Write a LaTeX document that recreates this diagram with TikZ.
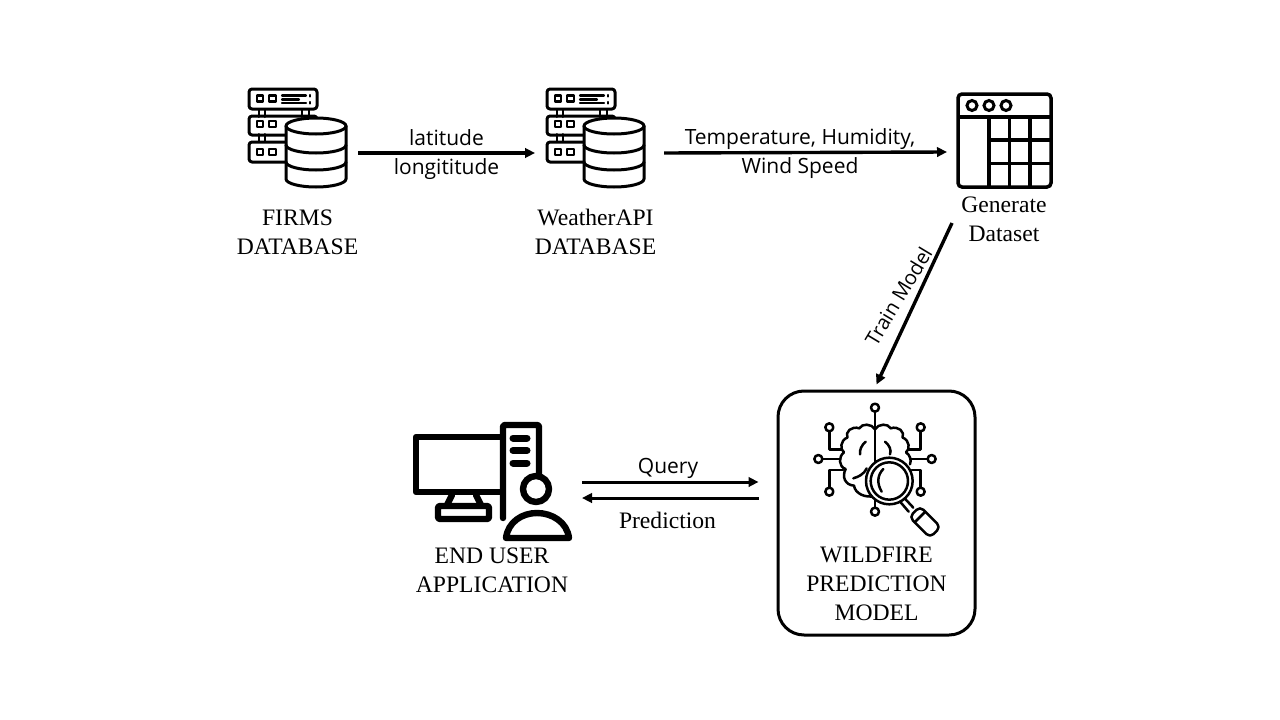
\documentclass[tikz,border=0pt]{standalone}
\usepackage{fontspec}
\setmainfont{Liberation Serif}
\newfontfamily\labfont{Open Sans}
\usetikzlibrary{arrows.meta,calc}
\tikzset{
  x=1pt,y=-1pt,
  flow/.style={line width=3.4pt,-{Triangle[length=10pt,width=9.5pt]}},
  serif/.style={align=center,inner sep=0pt,font=\fontsize{23.6}{29}\selectfont},
  sans/.style={align=center,inner sep=0pt,font=\labfont\fontsize{21}{29}\selectfont},
  anchorbox/.style={inner sep=0pt,minimum width=#1,outer sep=0pt},
  ink/.style={line width=3pt,line join=round,line cap=round},
  dbicon/.pic={
    \begin{scope}[ink,fill=white]
      \foreach \yy in {20,45}{
        \draw[line width=2pt] (10,\yy)--(10,\yy+8) (16,\yy)--(16,\yy+8) (53,\yy)--(53,\yy+8) (60,\yy)--(60,\yy+8);}
      \draw[rounded corners=3pt] (0,0) rectangle (68,20);
      \draw[rounded corners=3pt] (0,27) rectangle (68,46);
      \draw[rounded corners=3pt] (0,53) rectangle (68,73);
      \foreach \yy in {6.5,32,60}{
        \draw[line width=2.6pt] (8,\yy) rectangle (14,\yy+6);
        \draw[line width=2.6pt] (20,\yy) rectangle (27,\yy+6);}
      \draw[line width=2.2pt] (33,6.5)--(57,6.5) (33,10.5)--(50,10.5) (33,14)--(57,14);
      \draw[line width=2.2pt] (61,6)--(61,7.5) (61,13)--(61,14.5);
      \fill[white] (37,37) -- (37,90) arc[start angle=180,end angle=0,x radius=30,y radius=8] -- (97,37) arc[start angle=0,end angle=-180,x radius=30,y radius=8] -- cycle;
      \draw (37,37) -- (37,90) arc[start angle=180,end angle=0,x radius=30,y radius=8] -- (97,37);
      \draw (67,37) ellipse[x radius=30,y radius=8];
      \draw (37,56) arc[start angle=180,end angle=0,x radius=30,y radius=8];
      \draw (37,73) arc[start angle=180,end angle=0,x radius=30,y radius=8];
      \fill (67,55) circle[radius=1.4pt] (67,73) circle[radius=1.4pt] (67,88) circle[radius=1.4pt];
    \end{scope}
  }
}
\begin{document}
\begin{tikzpicture}
\useasboundingbox (0,0) rectangle (1280,720);
\fill[white] (0,0) rectangle (1280,720);

% anchors for the icons
\node[anchorbox=110pt,minimum height=98pt] (firms) at (303,153) {};
\node[anchorbox=129pt,minimum height=98pt] (weather) at (599.5,153) {};
\node[anchorbox=105pt,minimum height=95pt] (table) at (999.5,152) {};
\node[anchorbox=169pt,minimum height=120pt] (user) at (497.5,490) {};

% database icons
\pic at (249,89) {dbicon};
\pic at (547,89) {dbicon};

% table icon
\begin{scope}[line width=3.5pt]
  \draw[rounded corners=4pt] (958,94) rectangle (1051,187);
  \draw (958,117)--(1051,117);
  \draw (989,117)--(989,187) (1009.5,117)--(1009.5,187) (1030,117)--(1030,187);
  \draw (989,140)--(1051,140) (989,163.5)--(1051,163.5);
  \draw[line width=3pt] (972,105.5) circle[radius=5pt] (989,105.5) circle[radius=5pt] (1006,105.5) circle[radius=5pt];
\end{scope}

% model box
\node[draw,line width=3pt,rounded corners=26pt,minimum width=197pt,minimum height=244pt,inner sep=0pt] (model) at (876.5,513) {};

% brain and magnifier icon
\begin{scope}[shift={(800,395)},x=0.3333pt,y=-0.3333pt,line width=2.5pt,line join=round,line cap=round]
  % circuit lines
  \draw (225,50)--(225,205);
  \draw (88,110)--(88,163)--(125,163);
  \draw (68,192)--(120,192);
  \draw (88,278)--(88,225)--(130,225);
  \draw (362,110)--(362,163)--(325,163);
  \draw (382,192)--(330,192);
  \draw (362,278)--(362,225)--(335,225);
  \draw (225,338)--(225,306);
  \foreach \p in {(225,38),(88,97),(55,192),(88,290),(362,97),(395,192),(362,290),(225,350)}
    \draw \p circle[radius=4pt];
  % left lobe
  \draw (225,103) .. controls (215,85) and (185,85) .. (178,100)
        .. controls (155,92) and (135,110) .. (142,128)
        .. controls (120,135) and (120,165) .. (132,172)
        .. controls (115,185) and (115,215) .. (137,222)
        .. controls (125,245) and (135,270) .. (162,272)
        .. controls (165,295) and (195,310) .. (225,303);
  % right lobe
  \draw (225,103) .. controls (235,85) and (265,85) .. (272,100)
        .. controls (295,92) and (315,110) .. (308,128)
        .. controls (330,135) and (330,165) .. (318,172)
        .. controls (330,180) and (335,195) .. (330,208);
  % inner creases
  \draw (197,140) .. controls (185,150) and (178,165) .. (180,178);
  \draw (255,140) .. controls (268,150) and (275,165) .. (270,178);
  \draw (160,250) .. controls (175,245) and (190,240) .. (200,220);
  % magnifier
  \fill[white] (268,258) circle[radius=72];
  \draw (268,258) circle[radius=70];
  \draw (268,258) circle[radius=56];
  \draw (245,290) .. controls (230,265) and (232,240) .. (250,222);
  \draw (314,310)--(340,338) (302,322)--(326,350);
  \draw[rounded corners=5pt,fill=white] (360,334)--(422,396)--(390,428)--(328,366)--cycle;
  \draw (376,350)--(344,382);
\end{scope}

% computer and user icon
\begin{scope}[line width=6.4pt,line join=round,line cap=round]
  \draw (500,437)--(416,437)--(416,492)--(500,492);
  \draw[rounded corners=2pt] (503,518)--(503,425)--(539,425)--(539,480);
  \draw[line width=7pt] (513,438)--(527,438) (513,450.5)--(527,450.5) (513,463)--(527,463);
  \draw (452,495)--(447,505) (476,495)--(481,505);
  \draw[rounded corners=1.5pt] (438,506) rectangle (489,519);
  \filldraw[fill=white] (536,489) circle[radius=13pt];
  \filldraw[fill=white] (506,538) .. controls (508,522) and (522,513) .. (537,513)
     .. controls (552,513) and (567,522) .. (569,538) -- cycle;
\end{scope}

% texts
\node[serif] (firmslabel) at (297.5,232) {FIRMS\\DATABASE};
\node[serif] (weatherlabel) at (595.5,232) {WeatherAPI\\DATABASE};
\node[serif] (genlabel) at (1004,219.3) {Generate\\Dataset};
\node[serif] (userlabel) at (492,570) {END USER\\APPLICATION};
\node[serif] (modellabel) at (876.5,583.7) {WILDFIRE\\PREDICTION\\MODEL};
\node[sans] (latlabel) at (446.5,155) {latitude\\longititude};
\node[sans] (templabel) at (800,153.5) {Temperature, Humidity,\\Wind Speed};
\node[sans,rotate=59,font=\labfont\fontsize{20}{25}\selectfont] (trainlabel) at (898.5,296) {Train Model};
\node[sans] (querylabel) at (668,468) {Query};
\node[serif,font=\fontsize{23.6}{25}\selectfont] (predlabel) at (667.5,520) {Prediction};

% connectors
\draw[flow] (firms) -- (weather);
\draw[flow] (weather.east) -- (table.west);
\coordinate (trainstart) at (952,223);
\draw[flow] (trainstart) -- ([yshift=5pt]model.north);
\draw[flow,line width=3pt] ([yshift=8pt]user.east) -- ([xshift=-18pt,yshift=31pt]model.west);
\draw[flow,line width=3pt] ([xshift=-18pt,yshift=15pt]model.west) -- ([yshift=-8pt]user.east);
\end{tikzpicture}
\end{document}
